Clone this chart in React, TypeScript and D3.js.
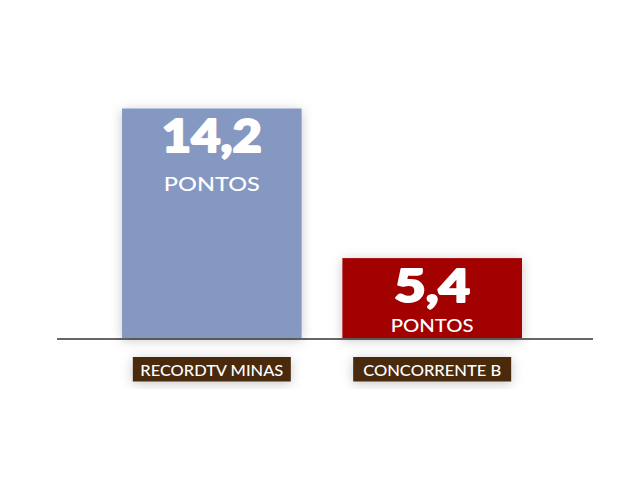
import React from "react";
import * as d3 from "d3";

const categories = ["RECORDTV MINAS", "CONCORRENTE B"];
const values = [14.2, 5.4];
const barColors = ["#8598c2", "#a30000"];
const unitLabel = "PONTOS";

const W = 640;
const H = 480;
const baseY = 338;

export default function App() {
  const x = d3.scaleBand<string>().domain(categories).range([100, 544]).paddingInner(0.185).paddingOuter(0.1);
  // axis in the source does not start at zero
  const y = d3.scaleLinear().domain([0.7, 14.2]).range([baseY, 108.5]);
  const fmt = (v: number) => d3.format(".1f")(v).replace(".", ",");
  const boxW = 158;

  return (
    <svg width={W} height={H} style={{ position: "absolute", left: 0, top: 0, background: "#fff" }}>
      <defs>
        <filter id="shadow" x="-30%" y="-30%" width="160%" height="160%">
          <feDropShadow dx={0} dy={2} stdDeviation={6} floodColor="#000" floodOpacity={0.22} />
        </filter>
      </defs>

      {/* baseline */}
      <line x1={57} x2={593} y1={baseY + 1} y2={baseY + 1} stroke="#666" strokeWidth={2} />

      {categories.map((c, i) => {
        const bx = x(c)!;
        const bw = x.bandwidth();
        const top = y(values[i]);
        const h = baseY - top;
        const cx = bx + bw / 2;
        const small = h < 120;
        return (
          <g key={c} fontFamily="Lato, 'Open Sans', sans-serif">
            <rect x={bx} y={top} width={bw} height={h} fill={barColors[i]} filter="url(#shadow)" />
            <text x={cx} y={top + 43.5} textAnchor="middle" fontSize={45} fontWeight={900} fill="#fff"
              stroke="#fff" strokeWidth={2} strokeLinejoin="round"
              textLength={small ? 76 : 100} lengthAdjust="spacingAndGlyphs">
              {fmt(values[i])}
            </text>
            <text x={cx} y={top + (small ? 74 : 82)} textAnchor="middle" fontSize={small ? 17 : 19.5} fontWeight={500} fill="#fff"
              textLength={small ? 83 : 96} lengthAdjust="spacingAndGlyphs">
              {unitLabel}
            </text>
            <rect x={cx - boxW / 2} y={357} width={boxW} height={24.5} fill="#4a2c0e" filter="url(#shadow)" />
            <text x={cx} y={375.5} textAnchor="middle" fontSize={15} fontWeight={500} fill="#fff"
              textLength={i === 0 ? 143 : 138} lengthAdjust="spacingAndGlyphs">
              {c}
            </text>
          </g>
        );
      })}
    </svg>
  );
}
